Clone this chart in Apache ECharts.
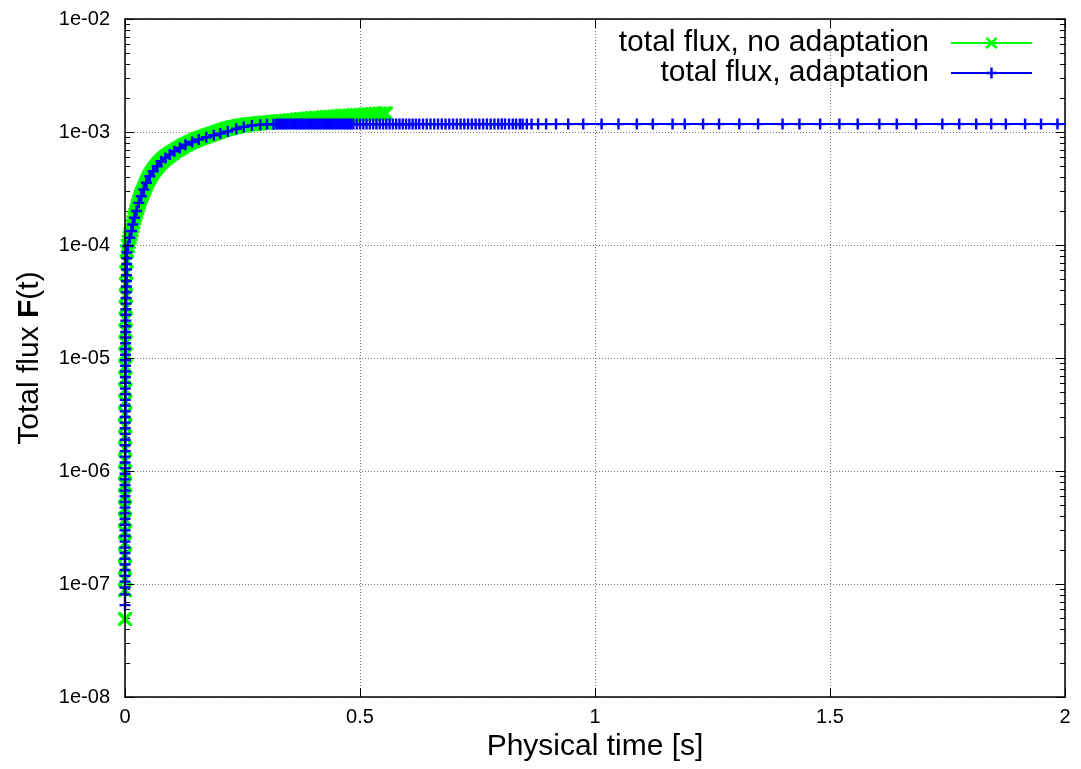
<!DOCTYPE html>
<html>
<head>
<meta charset="utf-8">
<title>Total flux</title>
<script src="https://cdn.jsdelivr.net/npm/echarts@6/dist/echarts.min.js"></script>
<style>
  html, body { margin: 0; padding: 0; background: #fff; }
  #chart { width: 1081px; height: 769px; }
</style>
</head>
<body>
<div id="chart"></div>
<script>
// ---- series names ----
const seriesNames = ['total flux, no adaptation', 'total flux, adaptation'];

// ---- run without time-step adaptation: physical time [s] and total flux ----
const noAdaptTime = [
  0, 0.00001, 0.00002, 0.00003, 0.00004, 0.00005, 0.00006, 0.00008, 0.0001, 0.00012,
  0.00014, 0.00017, 0.0002, 0.00024, 0.00028, 0.00033, 0.00039, 0.00046, 0.00054, 0.00063,
  0.00074, 0.00087, 0.00102, 0.0012, 0.0014, 0.00165, 0.0019, 0.0023, 0.0028, 0.0034,
  0.004, 0.006, 0.008, 0.010, 0.012, 0.014, 0.016, 0.018, 0.020, 0.022,
  0.024, 0.026, 0.028, 0.030,
  0.032, 0.034, 0.036, 0.038, 0.040, 0.042, 0.044, 0.046, 0.048, 0.050,
  0.052, 0.054, 0.056, 0.058, 0.060, 0.062, 0.064, 0.066, 0.068, 0.070,
  0.072, 0.074, 0.076, 0.078, 0.080, 0.082, 0.084, 0.086, 0.088, 0.090,
  0.092, 0.094, 0.096, 0.098, 0.100,
  0.102, 0.106, 0.110, 0.114, 0.118, 0.122, 0.126, 0.130, 0.134, 0.138,
  0.142, 0.146, 0.150, 0.154, 0.158, 0.162, 0.166, 0.170, 0.174, 0.178,
  0.182, 0.186, 0.190, 0.194, 0.198, 0.202, 0.206, 0.210, 0.214, 0.218,
  0.222, 0.226, 0.230, 0.234, 0.238, 0.242, 0.246, 0.250, 0.254, 0.258,
  0.262, 0.266, 0.270, 0.274, 0.278, 0.282, 0.286, 0.290, 0.294, 0.298,
  0.302, 0.306, 0.310, 0.314, 0.318, 0.322, 0.326, 0.330, 0.334,
  0.342, 0.350, 0.358, 0.366, 0.374, 0.382, 0.390, 0.398, 0.406, 0.414,
  0.422, 0.430, 0.438, 0.446, 0.454, 0.462, 0.470, 0.478, 0.486, 0.494,
  0.502, 0.510, 0.518, 0.526, 0.534, 0.542, 0.550, 0.555
];
const noAdaptFlux = [
  4.9e-8, 8.8e-8, 1.1e-7, 1.4e-7, 1.8e-7, 2.3e-7, 2.9e-7, 3.7e-7, 4.7e-7, 6.0e-7,
  7.6e-7, 9.7e-7, 1.23e-6, 1.57e-6, 2.0e-6, 2.5e-6, 3.2e-6, 4.1e-6, 5.2e-6, 6.6e-6,
  8.4e-6, 1.07e-5, 1.36e-5, 1.73e-5, 2.2e-5, 2.8e-5, 3.55e-5, 4.5e-5, 5.7e-5, 7.2e-5,
  0.88e-4, 0.98e-4, 1.07e-4, 1.16e-4, 1.25e-4, 1.35e-4, 1.47e-4, 1.59e-4, 1.73e-4, 1.85e-4,
  1.98e-4, 2.11e-4, 2.25e-4, 2.40e-4,
  2.54e-4, 2.68e-4, 2.82e-4, 2.96e-4, 3.10e-4, 3.25e-4, 3.40e-4, 3.56e-4, 3.70e-4, 3.85e-4,
  3.99e-4, 4.13e-4, 4.26e-4, 4.39e-4, 4.51e-4, 4.63e-4, 4.75e-4, 4.86e-4, 4.97e-4, 5.08e-4,
  5.20e-4, 5.32e-4, 5.44e-4, 5.55e-4, 5.64e-4, 5.73e-4, 5.82e-4, 5.91e-4, 6.00e-4, 6.08e-4,
  6.17e-4, 6.27e-4, 6.36e-4, 6.45e-4, 6.53e-4,
  6.62e-4, 6.79e-4, 6.95e-4, 7.11e-4, 7.27e-4, 7.45e-4, 7.62e-4, 7.77e-4, 7.92e-4, 8.06e-4,
  8.20e-4, 8.34e-4, 8.48e-4, 8.62e-4, 8.75e-4, 8.88e-4, 9.00e-4, 9.13e-4, 9.25e-4, 9.38e-4,
  9.50e-4, 9.63e-4, 9.75e-4, 9.88e-4, 1.00e-3, 1.015e-3, 1.03e-3, 1.043e-3, 1.055e-3, 1.068e-3,
  1.08e-3, 1.09e-3, 1.10e-3, 1.11e-3, 1.12e-3, 1.128e-3, 1.135e-3, 1.143e-3, 1.15e-3, 1.158e-3,
  1.165e-3, 1.17e-3, 1.175e-3, 1.18e-3, 1.185e-3, 1.19e-3, 1.195e-3, 1.20e-3, 1.205e-3, 1.208e-3,
  1.21e-3, 1.215e-3, 1.22e-3, 1.225e-3, 1.23e-3, 1.235e-3, 1.24e-3, 1.245e-3, 1.25e-3,
  1.26e-3, 1.27e-3, 1.28e-3, 1.29e-3, 1.30e-3, 1.31e-3, 1.32e-3, 1.33e-3, 1.335e-3, 1.34e-3,
  1.35e-3, 1.36e-3, 1.365e-3, 1.37e-3, 1.38e-3, 1.39e-3, 1.395e-3, 1.40e-3, 1.41e-3, 1.415e-3,
  1.42e-3, 1.43e-3, 1.435e-3, 1.44e-3, 1.45e-3, 1.455e-3, 1.46e-3, 1.465e-3
];

// ---- run with time-step adaptation: physical time [s] and total flux ----
const adaptTime = [
  0, 0.000005, 0.00001, 0.000015, 0.00002, 0.000025, 0.00003, 0.000036, 0.000042, 0.000048,
  0.000055, 0.000062, 0.00007, 0.000078, 0.000087, 0.000096, 0.000106, 0.000117, 0.000129, 0.000142,
  0.000156, 0.000171, 0.000187,
  0.000205, 0.000224, 0.000245, 0.000268, 0.000293, 0.00032, 0.00035, 0.000382, 0.000417, 0.000455,
  0.000496, 0.00054, 0.000588, 0.00064, 0.000696, 0.000757, 0.000822, 0.000892, 0.000968, 0.00105,
  0.00114, 0.00123, 0.00133, 0.00144, 0.00155, 0.00167, 0.0018, 0.00194, 0.00209, 0.00225,
  0.00242, 0.0026, 0.00279, 0.00299, 0.0032, 0.00342, 0.00365, 0.0039, 0.0042,
  0.006, 0.0102, 0.0138, 0.0166, 0.0202, 0.0245, 0.0294, 0.0344, 0.040, 0.0457,
  0.0528, 0.060, 0.0685, 0.077, 0.086, 0.0953, 0.105, 0.1166, 0.1287, 0.143,
  0.157, 0.173, 0.189, 0.203, 0.2186, 0.237, 0.2527, 0.270, 0.288, 0.302, 0.316,
  0.322, 0.326, 0.330, 0.334, 0.338, 0.342, 0.346, 0.350, 0.354, 0.358,
  0.362, 0.366, 0.370, 0.374, 0.378, 0.382, 0.386, 0.390, 0.394, 0.398,
  0.402, 0.406, 0.410, 0.414, 0.418, 0.422, 0.426, 0.430, 0.434, 0.438,
  0.442, 0.446, 0.450, 0.454, 0.458, 0.462, 0.466, 0.470, 0.474, 0.478, 0.482,
  0.486, 0.493, 0.500, 0.507, 0.514, 0.521, 0.528, 0.535, 0.542, 0.549,
  0.556, 0.563, 0.570, 0.577, 0.584, 0.591, 0.598, 0.605, 0.612, 0.619,
  0.626, 0.634, 0.642, 0.650, 0.658, 0.666, 0.674, 0.682, 0.690, 0.698,
  0.706, 0.714, 0.722, 0.730, 0.738, 0.746, 0.754, 0.762, 0.770, 0.778, 0.786, 0.794,
  0.8015, 0.8085, 0.817, 0.825, 0.832, 0.840, 0.846, 0.855, 0.865, 0.879,
  0.896, 0.917, 0.943, 0.975, 1.014, 1.050, 1.089, 1.123, 1.165, 1.191,
  1.230, 1.264, 1.307, 1.347, 1.399, 1.435, 1.479, 1.520, 1.559, 1.605,
  1.642, 1.683, 1.739, 1.775, 1.811, 1.843, 1.874, 1.915, 1.949, 1.984, 2.03
];
const adaptFlux = [
  6.5e-8, 8.1e-8, 9.3e-8, 1.05e-7, 1.18e-7, 1.33e-7, 1.49e-7, 1.67e-7, 1.88e-7, 2.1e-7,
  2.37e-7, 2.66e-7, 2.98e-7, 3.35e-7, 3.76e-7, 4.22e-7, 4.74e-7, 5.32e-7, 5.97e-7, 6.7e-7,
  7.52e-7, 8.44e-7, 9.47e-7,
  1.06e-6, 1.19e-6, 1.34e-6, 1.5e-6, 1.69e-6, 1.89e-6, 2.13e-6, 2.39e-6, 2.68e-6, 3.01e-6,
  3.38e-6, 3.79e-6, 4.26e-6, 4.78e-6, 5.36e-6, 6.02e-6, 6.76e-6, 7.59e-6, 8.52e-6, 9.56e-6,
  1.07e-5, 1.2e-5, 1.35e-5, 1.52e-5, 1.7e-5, 1.91e-5, 2.14e-5, 2.41e-5, 2.7e-5, 3.03e-5,
  3.4e-5, 3.82e-5, 4.29e-5, 4.81e-5, 5.4e-5, 6.06e-5, 6.8e-5, 7.63e-5, 8.57e-5,
  0.98e-4, 1.16e-4, 1.33e-4, 1.52e-4, 1.74e-4, 2.0e-4, 2.36e-4, 2.70e-4, 3.10e-4, 3.55e-4,
  4.06e-4, 4.50e-4, 4.98e-4, 5.51e-4, 5.90e-4, 6.31e-4, 6.75e-4, 7.22e-4, 7.73e-4, 8.16e-4,
  8.57e-4, 8.98e-4, 9.35e-4, 9.68e-4, 1.01e-3, 1.07e-3, 1.11e-3, 1.14e-3, 1.16e-3, 1.17e-3, 1.172e-3,
  1.175e-3, 1.175e-3, 1.175e-3, 1.175e-3, 1.175e-3, 1.175e-3, 1.175e-3, 1.175e-3, 1.175e-3, 1.175e-3,
  1.175e-3, 1.175e-3, 1.175e-3, 1.175e-3, 1.175e-3, 1.175e-3, 1.175e-3, 1.175e-3, 1.175e-3, 1.175e-3,
  1.175e-3, 1.175e-3, 1.175e-3, 1.175e-3, 1.175e-3, 1.175e-3, 1.175e-3, 1.175e-3, 1.175e-3, 1.175e-3,
  1.175e-3, 1.175e-3, 1.175e-3, 1.175e-3, 1.175e-3, 1.175e-3, 1.175e-3, 1.175e-3, 1.175e-3, 1.175e-3, 1.175e-3,
  1.175e-3, 1.175e-3, 1.175e-3, 1.175e-3, 1.175e-3, 1.175e-3, 1.175e-3, 1.175e-3, 1.175e-3, 1.175e-3,
  1.175e-3, 1.175e-3, 1.175e-3, 1.175e-3, 1.175e-3, 1.175e-3, 1.175e-3, 1.175e-3, 1.175e-3, 1.175e-3,
  1.175e-3, 1.175e-3, 1.175e-3, 1.175e-3, 1.175e-3, 1.175e-3, 1.175e-3, 1.175e-3, 1.175e-3, 1.175e-3,
  1.175e-3, 1.175e-3, 1.175e-3, 1.175e-3, 1.175e-3, 1.175e-3, 1.175e-3, 1.175e-3, 1.175e-3, 1.175e-3, 1.175e-3, 1.175e-3,
  1.175e-3, 1.175e-3, 1.175e-3, 1.175e-3, 1.175e-3, 1.175e-3, 1.175e-3, 1.175e-3, 1.175e-3, 1.175e-3,
  1.175e-3, 1.175e-3, 1.175e-3, 1.175e-3, 1.175e-3, 1.175e-3, 1.175e-3, 1.175e-3, 1.175e-3, 1.175e-3,
  1.175e-3, 1.175e-3, 1.175e-3, 1.175e-3, 1.175e-3, 1.175e-3, 1.175e-3, 1.175e-3, 1.175e-3, 1.175e-3,
  1.175e-3, 1.175e-3, 1.175e-3, 1.175e-3, 1.175e-3, 1.175e-3, 1.175e-3, 1.175e-3, 1.175e-3, 1.175e-3, 1.175e-3
];

// ---- axis ticks ----
const xTickValues = [0, 0.5, 1, 1.5, 2];
const xTickLabels = ['0', '0.5', '1', '1.5', '2'];
const yTickValues = [1e-8, 1e-7, 1e-6, 1e-5, 1e-4, 1e-3, 1e-2];
const yTickLabels = ['1e-08', '1e-07', '1e-06', '1e-05', '1e-04', '1e-03', '1e-02'];
const yMinorMultipliers = [2, 3, 4, 5, 6, 7, 8, 9];

// ---- styling ----
const FONT = 'Liberation Sans, Arial, Helvetica, sans-serif';
const GREEN = '#00ff00';
const BLUE = '#0000ff';
// gnuplot-like point types: "x" and "+"
const CROSS_PATH = 'path://M0,0 L1.7,0 L10,8.3 L10,10 L8.3,10 L0,1.7 Z M8.3,0 L10,0 L10,1.7 L1.7,10 L0,10 L0,8.3 Z';
const PLUS_PATH = 'path://M0,3.9 L10,3.9 L10,6.1 L0,6.1 Z M3.9,0 L6.1,0 L6.1,10 L3.9,10 Z';

function pairs(xs, ys) {
  const out = [];
  for (let i = 0; i < xs.length; i++) out.push([xs[i], ys[i]]);
  return out;
}

// minor tick positions between the decade ticks of the log axis
const yMinorTicks = [];
for (let d = 0; d < yTickValues.length - 1; d++) {
  for (const m of yMinorMultipliers) yMinorTicks.push([0, yTickValues[d] * m]);
}

function xLabel(v) {
  const i = xTickValues.findIndex(t => Math.abs(t - v) < 1e-9);
  return i >= 0 ? xTickLabels[i] : '';
}
function yLabel(v) {
  const i = yTickValues.findIndex(t => Math.abs(Math.log10(t) - Math.log10(v)) < 1e-6);
  return i >= 0 ? yTickLabels[i] : '';
}

const frameLine = { show: true, onZero: false, lineStyle: { color: '#000', width: 1.5 } };
const majorTick = { show: true, inside: true, length: 9, lineStyle: { color: '#000', width: 1 } };
const gridLine = { show: true, lineStyle: { color: '#7a7a7a', width: 1, type: [1, 2] } };

const chart = echarts.init(document.getElementById('chart'), null, { renderer: 'canvas' });

chart.setOption({
  animation: false,
  backgroundColor: '#ffffff',
  grid: { left: 125, right: 16, top: 19, bottom: 72, containLabel: false },
  legend: {
    orient: 'vertical',
    right: 48,
    top: 28,
    align: 'right',
    itemWidth: 81,
    itemHeight: 14,
    itemGap: 0,
    padding: 0,
    selectedMode: false,
    data: seriesNames,
    textStyle: { fontFamily: FONT, fontSize: 30, color: '#000', lineHeight: 30, padding: [0, 17, 0, 0] }
  },
  xAxis: [
    {
      type: 'value', min: 0, max: 2, interval: 0.5, position: 'bottom', z: 10,
      axisLine: frameLine, axisTick: majorTick,
      axisLabel: { margin: 10, fontFamily: FONT, fontSize: 20, color: '#000', formatter: xLabel },
      splitLine: { show: false },
      name: 'Physical time [s]', nameLocation: 'middle', nameGap: 33,
      nameTextStyle: { fontFamily: FONT, fontSize: 30, color: '#000' }
    },
    {
      type: 'value', min: 0, max: 2, interval: 0.5, position: 'top',
      axisLine: frameLine, axisTick: majorTick,
      axisLabel: { show: false },
      splitLine: gridLine
    }
  ],
  yAxis: [
    {
      type: 'log', logBase: 10, min: 1e-8, max: 1e-2, interval: 1, position: 'left', z: 10,
      axisLine: frameLine, axisTick: majorTick,
      axisLabel: { margin: 15, fontFamily: FONT, fontSize: 20, color: '#000', formatter: yLabel },
      splitLine: { show: false }
    },
    {
      type: 'log', logBase: 10, min: 1e-8, max: 1e-2, interval: 1, position: 'right',
      axisLine: frameLine, axisTick: majorTick,
      axisLabel: { show: false },
      splitLine: gridLine
    }
  ],
  graphic: [
    {
      type: 'text',
      x: 30, y: 358,
      rotation: Math.PI / 2,
      style: {
        text: '{n|Total flux }{b|F}{n|(t)}',
        align: 'center',
        verticalAlign: 'middle',
        rich: {
          n: { fontFamily: FONT, fontSize: 30, fill: '#000' },
          b: { fontFamily: FONT, fontSize: 30, fontWeight: 'bold', fill: '#000' }
        }
      }
    }
  ],
  series: [
    {
      type: 'custom',
      name: 'minor ticks',
      xAxisIndex: 0, yAxisIndex: 0,
      silent: true,
      z: 1,
      data: yMinorTicks,
      encode: { x: 0, y: 1 },
      renderItem: function (params, api) {
        const y = Math.round(api.coord([0, api.value(1)])[1]) + 0.5;
        const cs = params.coordSys;
        return {
          type: 'group',
          children: [
            { type: 'line', shape: { x1: cs.x, y1: y, x2: cs.x + 5, y2: y }, style: { stroke: '#000', lineWidth: 1 } },
            { type: 'line', shape: { x1: cs.x + cs.width - 5, y1: y, x2: cs.x + cs.width, y2: y }, style: { stroke: '#000', lineWidth: 1 } }
          ]
        };
      }
    },
    {
      type: 'line',
      name: seriesNames[0],
      xAxisIndex: 0, yAxisIndex: 0,
      z: 2,
      data: pairs(noAdaptTime, noAdaptFlux),
      symbol: CROSS_PATH,
      symbolSize: 14,
      showSymbol: true,
      lineStyle: { color: GREEN, width: 2 },
      itemStyle: { color: GREEN },
      emphasis: { disabled: true }
    },
    {
      type: 'line',
      name: seriesNames[1],
      xAxisIndex: 0, yAxisIndex: 0,
      z: 3,
      data: pairs(adaptTime, adaptFlux),
      symbol: PLUS_PATH,
      symbolSize: 11,
      showSymbol: true,
      lineStyle: { color: BLUE, width: 2 },
      itemStyle: { color: BLUE },
      emphasis: { disabled: true }
    }
  ]
});
</script>
</body>
</html>
